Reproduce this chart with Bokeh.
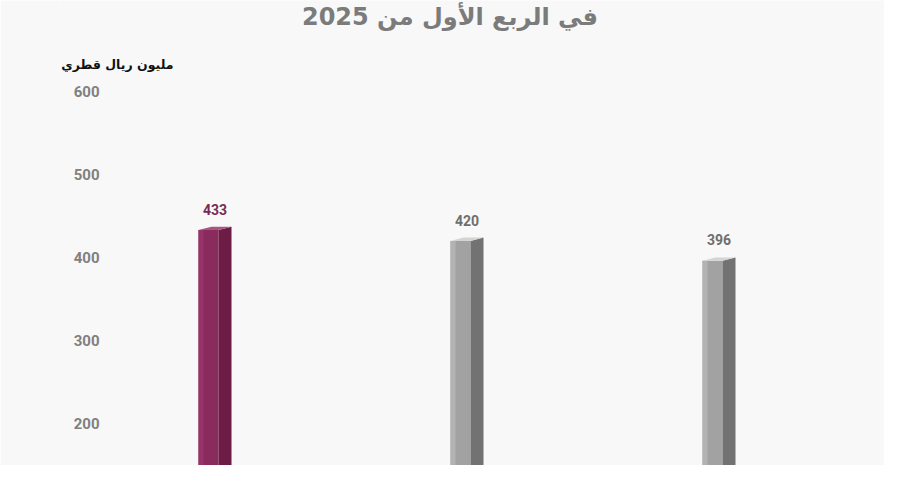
import numpy as np
from bokeh.plotting import figure
from bokeh.models import Range1d, FixedTicker, Label
from bokeh.core.properties import value
from bokeh.embed import file_html
from bokeh.resources import INLINE

# ---- data ----
values = [433, 420, 396]
front_colors = ["#8a2b5e", "#a2a2a2", "#a2a2a2"]
highlight_colors = ["#953468", "#b3b3b3", "#b3b3b3"]
side_colors = ["#6c1c45", "#727272", "#727272"]
top_colors = ["#a9557f", "#d4d4d4", "#d4d4d4"]
label_colors = ["#7a2a52", "#6e6e6e", "#6e6e6e"]
y_ticks = [200, 300, 400, 500, 600]
title_text = "في الربع الأول من 2025"
unit_text = "مليون ريال قطري"

W, H = 884, 465
LEFT = 60
BG = "#f8f8f8"

p = figure(width=W, height=H, output_backend="svg", toolbar_location=None,
           x_range=Range1d(-0.6131, 2.6567), y_range=Range1d(149.4, 709.6),
           min_border_left=LEFT, min_border_right=0, min_border_top=0, min_border_bottom=0)
p.background_fill_color = BG
p.border_fill_color = BG
p.outline_line_color = None
p.grid.visible = False
p.xaxis.visible = False

ax = p.yaxis[0]
ax.ticker = FixedTicker(ticks=y_ticks)
ax.axis_line_color = None
ax.major_tick_line_color = None
ax.minor_tick_line_color = None
ax.major_tick_out = 0
ax.major_label_standoff = -39
ax.major_label_text_font = "Roboto"
ax.major_label_text_font_style = "bold"
ax.major_label_text_font_size = "15px"
ax.major_label_text_color = "#808080"

xs = np.arange(len(values), dtype=float)
vals = np.array(values, dtype=float)

wf = 20 / 252.0   # front face width
ws = 13 / 252.0   # side face width
x0 = xs - (wf + ws) / 2
xm = x0 + wf
x1 = xm + ws
d = 4.0  # top depth in value units

# front face
p.vbar(x=x0 + wf / 2, width=wf, top=vals, bottom=0, fill_color=front_colors, line_color=None)
# light strip on front's left
p.vbar(x=x0 + 2.5 / 252, width=5 / 252, top=vals, bottom=0, fill_color=highlight_colors, line_color=None)
# side face
p.patches(xs=[[a, a, b, b] for a, b in zip(xm, x1)],
          ys=[[0, v, v + d, 0] for v in vals],
          fill_color=side_colors, line_color=None)
# top face
p.patches(xs=[[a, m, b, a + ws] for a, m, b in zip(x0, xm, x1)],
          ys=[[v, v, v + d, v + d] for v in vals],
          fill_color=top_colors, line_color=None)

# value labels
p.text(x=xs, y=vals + d, text=[str(v) for v in values], text_align="center", text_baseline="bottom",
       y_offset=-12, text_font=value("Roboto"), text_font_style="bold", text_font_size="14px",
       text_color=label_colors)

# title and unit
p.add_layout(Label(x=449.5 - LEFT, y=H - 16, x_units="screen", y_units="screen", text=title_text,
                   text_align="center", text_baseline="middle", text_font="DejaVu Sans",
                   text_font_style="bold", text_font_size="24px", text_color="#7b7b7b"))
p.add_layout(Label(x=173 - LEFT, y=H - 64, x_units="screen", y_units="screen", text=unit_text,
                   text_align="right", text_baseline="middle", text_font="DejaVu Sans",
                   text_font_style="bold", text_font_size="12.5px", text_color="#111111"))

open("out.html", "w").write(file_html(p, INLINE))
